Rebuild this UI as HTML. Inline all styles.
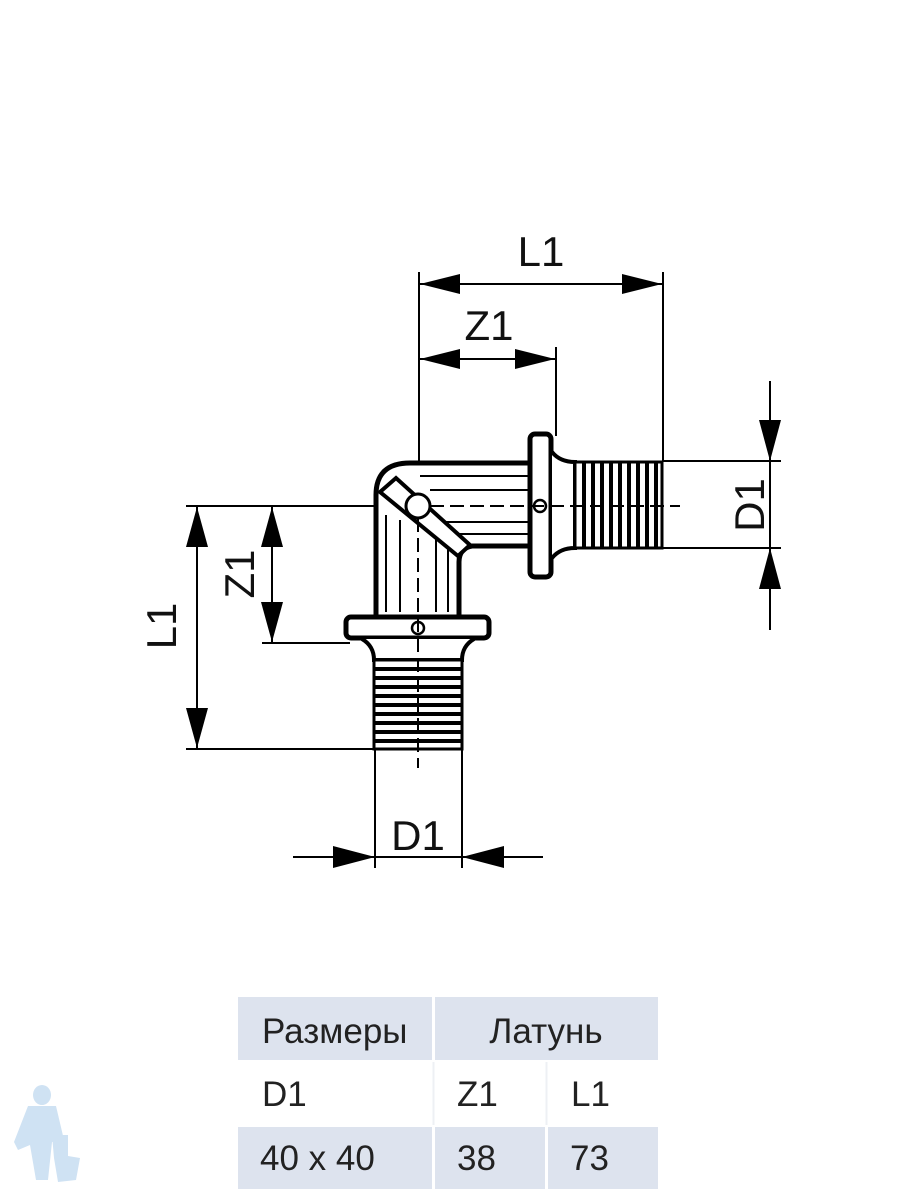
<!DOCTYPE html>
<html><head><meta charset="utf-8"><style>
html,body{margin:0;padding:0;background:#fff;}
svg{display:block;}
</style></head><body>
<svg width="900" height="1200" viewBox="0 0 900 1200" xmlns="http://www.w3.org/2000/svg">
<g stroke="#000" stroke-width="2" fill="none">
  <line x1="419" y1="272" x2="419" y2="506"/>
  <line x1="663" y1="272" x2="663" y2="462"/>
  <line x1="556" y1="347" x2="556" y2="436"/>
  <line x1="420" y1="284" x2="662" y2="284"/>
  <line x1="420" y1="359" x2="555" y2="359"/>
  <line x1="662" y1="461" x2="781" y2="461"/>
  <line x1="662" y1="548" x2="781" y2="548"/>
  <line x1="770" y1="381" x2="770" y2="630"/>
  <line x1="186" y1="506" x2="378" y2="506"/>
  <line x1="186" y1="749" x2="374" y2="749"/>
  <line x1="262" y1="643" x2="350" y2="643"/>
  <line x1="197" y1="507" x2="197" y2="748"/>
  <line x1="272" y1="507" x2="272" y2="642"/>
  <line x1="375" y1="748" x2="375" y2="868"/>
  <line x1="462" y1="748" x2="462" y2="868"/>
  <line x1="293" y1="857" x2="543" y2="857"/>
</g>
<g fill="#000">
  <polygon points="420,284 460,274 460,294"/>
  <polygon points="662,284 622,274 622,294"/>
  <polygon points="420,359 460,349 460,369"/>
  <polygon points="555,359 515,349 515,369"/>
  <polygon points="770,461 759,420 781,420"/>
  <polygon points="770,548 759,589 781,589"/>
  <polygon points="197,507 186,547 208,547"/>
  <polygon points="197,748 186,708 208,708"/>
  <polygon points="272,507 261,547 283,547"/>
  <polygon points="272,642 261,602 283,602"/>
  <polygon points="375,857 333,846 333,868"/>
  <polygon points="462,857 504,846 504,868"/>
</g>
<g stroke="#000" fill="#fff">
  <path d="M376,617 L376,495 Q376,463 410,463 L532,463 L532,546 L472,546 Q459,548 459,562 L459,617 Z" stroke-width="5"/>
  <g stroke-width="2" fill="none">
    <line x1="420" y1="476" x2="528" y2="476"/>
    <line x1="430" y1="490" x2="528" y2="490"/>
    <line x1="440" y1="522" x2="528" y2="522"/>
    <line x1="448" y1="534" x2="528" y2="534"/>
    <line x1="386" y1="515" x2="386" y2="612"/>
    <line x1="400" y1="520" x2="400" y2="612"/>
    <line x1="436" y1="520" x2="436" y2="612"/>
    <line x1="448" y1="540" x2="448" y2="612"/>
  </g>
  <path d="M380,492 L396,478 L470,545 L458,556 Z" stroke-width="4" fill="#fff"/>
  <circle cx="418" cy="506" r="12" stroke-width="3"/>
  <rect x="530" y="434" width="21" height="143" rx="5" stroke-width="5"/>
  <path d="M552,452 Q560,462 575,462 L575,548 Q560,548 552,558" stroke-width="4"/>
  <rect x="575" y="462" width="87" height="86" stroke-width="3"/>
  <g stroke-width="4">
    <line x1="584" y1="462" x2="584" y2="548"/><line x1="593" y1="462" x2="593" y2="548"/>
    <line x1="602" y1="462" x2="602" y2="548"/><line x1="611" y1="462" x2="611" y2="548"/>
    <line x1="620" y1="462" x2="620" y2="548"/><line x1="629" y1="462" x2="629" y2="548"/>
    <line x1="638" y1="462" x2="638" y2="548"/><line x1="647" y1="462" x2="647" y2="548"/>
    <line x1="656" y1="462" x2="656" y2="548"/>
  </g>
  <circle cx="540" cy="506" r="6" stroke-width="2.5"/>
  <rect x="346" y="617" width="143" height="21" rx="5" stroke-width="5"/>
  <path d="M362,639 Q374,646 374,660 L462,660 Q462,646 474,639" stroke-width="4"/>
  <rect x="374" y="660" width="88" height="89" stroke-width="3"/>
  <g stroke-width="4">
    <line x1="374" y1="669" x2="462" y2="669"/><line x1="374" y1="678" x2="462" y2="678"/>
    <line x1="374" y1="687" x2="462" y2="687"/><line x1="374" y1="696" x2="462" y2="696"/>
    <line x1="374" y1="705" x2="462" y2="705"/><line x1="374" y1="714" x2="462" y2="714"/>
    <line x1="374" y1="723" x2="462" y2="723"/><line x1="374" y1="732" x2="462" y2="732"/>
    <line x1="374" y1="741" x2="462" y2="741"/>
  </g>
  <circle cx="418" cy="628" r="6" stroke-width="2.5"/>
</g>
<g stroke="#000" stroke-width="2" fill="none">
  <line x1="430" y1="506" x2="680" y2="506" stroke-dasharray="14,6"/>
  <line x1="418" y1="518" x2="418" y2="768" stroke-dasharray="14,6"/>
</g>
<g font-family="Liberation Sans, sans-serif" font-size="42" fill="#111" text-anchor="middle">
  <text x="541" y="266">L1</text>
  <text x="489" y="340">Z1</text>
  <text x="418" y="850">D1</text>
  <text transform="translate(764,505) rotate(-90)">D1</text>
  <text transform="translate(176,626) rotate(-90)">L1</text>
  <text transform="translate(254,574) rotate(-90)">Z1</text>
</g>
<g>
  <rect x="238" y="997" width="194" height="63" fill="#dde3ee"/>
  <rect x="435" y="997" width="223" height="63" fill="#dde3ee"/>
  <rect x="238" y="1127" width="194" height="62" fill="#dde3ee"/>
  <rect x="435" y="1127" width="110" height="62" fill="#dde3ee"/>
  <rect x="548" y="1127" width="110" height="62" fill="#dde3ee"/>
  <line x1="433.5" y1="1062" x2="433.5" y2="1125" stroke="#eef0f4" stroke-width="2"/>
  <line x1="546.5" y1="1062" x2="546.5" y2="1125" stroke="#eef0f4" stroke-width="2"/>
</g>
<g font-family="Liberation Sans, sans-serif" font-size="35" fill="#222">
  <text x="262" y="1043">Размеры</text>
  <text x="546" y="1043" text-anchor="middle">Латунь</text>
  <text x="262" y="1106">D1</text>
  <text x="457" y="1106">Z1</text>
  <text x="571" y="1106">L1</text>
  <text x="260" y="1170">40 x 40</text>
  <text x="457" y="1170">38</text>
  <text x="570" y="1170">73</text>
</g>
<g fill="#cfe2f3">
  <ellipse cx="42" cy="1095" rx="9" ry="10"/>
  <path d="M28,1106 L56,1106 L64,1140 L52,1142 L48,1180 L36,1180 L30,1145 L18,1150 L14,1142 Z"/>
  <path d="M52,1135 L68,1135 L68,1156 L80,1158 L76,1180 L58,1182 L54,1158 Z"/>
</g>
</svg>
</body></html>
